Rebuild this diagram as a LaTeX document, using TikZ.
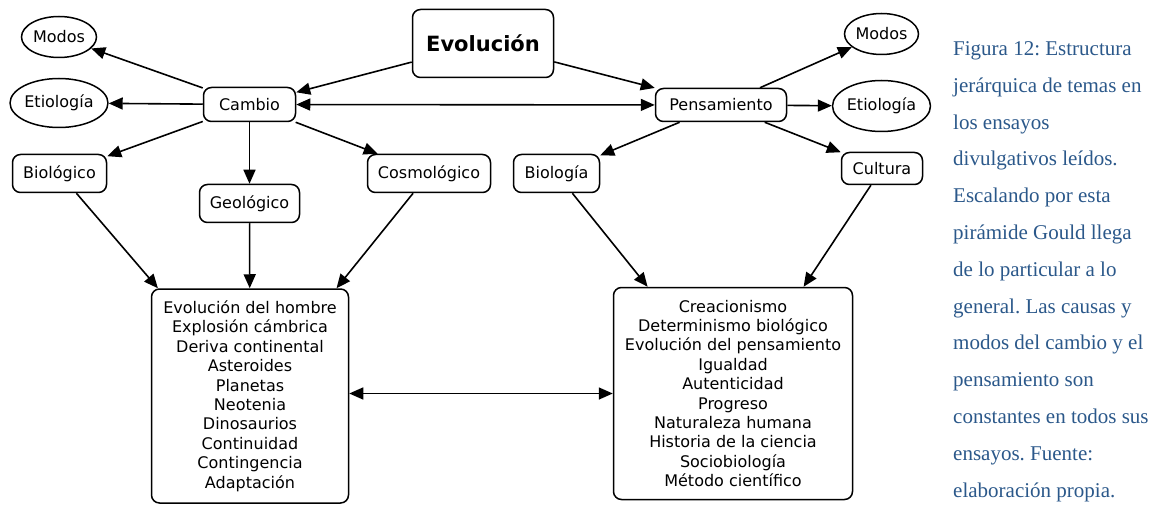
\documentclass[tikz,border=0pt]{standalone}
\usepackage{fontspec}
\newfontfamily\diagfont{DejaVu Sans}
\newfontfamily\captfont{Liberation Serif}
\usepackage{tikz}
\usetikzlibrary{arrows.meta, positioning, shapes.geometric}
\definecolor{captblue}{HTML}{2B588A}
\frenchspacing

\begin{document}
\begin{tikzpicture}[x=1pt, y=-1pt, >={Triangle[length=14pt, width=12pt]},
			every node/.style={font=\diagfont\fontsize{16}{19.4}\selectfont},
			topic/.style={draw, rectangle, rounded corners=8pt, line width=1.5pt, inner sep=0pt},
			mode/.style={draw, ellipse, line width=1.5pt, inner sep=0pt},
			link/.style={->, line width=1.6pt}]
			
			\useasboundingbox (0,0) rectangle (1154,505);
			
			% Drawing the root
			\node[topic, minimum width=141pt, minimum height=68pt,
				font=\diagfont\bfseries\fontsize{21}{24}\selectfont] (evol) at (483,43.5) {Evolución};
			
			% Drawing the two branches
			\node[topic, minimum width=92pt, minimum height=34pt] (cambio) at (249.5,104.5) {Cambio};
			\node[topic, minimum width=131pt, minimum height=33pt] (pens) at (721,105) {Pensamiento};
			
			% Drawing the leaves of Cambio
			\node[mode, minimum width=75pt, minimum height=41pt] (modosL) at (59,37) {Modos};
			\node[mode, minimum width=95pt, minimum height=49pt] (etioL) at (59,103) {Etiología};
			\node[topic, minimum width=94pt, minimum height=38pt] (biologico) at (59.5,173.5) {Biológico};
			\node[topic, minimum width=100pt, minimum height=38pt] (geologico) at (249.5,203.5) {Geológico};
			\node[topic, minimum width=123pt, minimum height=38pt] (cosmologico) at (429,173.5) {Cosmológico};
			
			% Drawing the leaves of Pensamiento
			\node[mode, minimum width=74pt, minimum height=41pt] (modosR) at (881.5,34) {Modos};
			\node[mode, minimum width=96pt, minimum height=51pt] (etioR) at (881.5,106) {Etiología};
			\node[topic, minimum width=81pt, minimum height=32pt] (cultura) at (882,168.5) {Cultura};
			\node[topic, minimum width=86pt, minimum height=38pt] (biologia) at (556.5,173.5) {Biología};
			
			% Drawing the lists of themes
			\node[topic, minimum width=197pt, minimum height=214pt, align=center] (temasL) at (250,396) {
				Evolución del hombre\\ Explosión cámbrica\\ Deriva continental\\ Asteroides\\ Planetas\\
				Neotenia\\ Dinosaurios\\ Continuidad\\ Contingencia\\ Adaptación};
			\node[topic, minimum width=239pt, minimum height=212pt, align=center] (temasR) at (733,393.5) {
				Creacionismo\\ Determinismo biológico\\ Evolución del pensamiento\\ Igualdad\\ Autenticidad\\
				Progreso\\ Naturaleza humana\\ Historia de la ciencia\\ Sociobiología\\ Método científico};
			
			% Connecting the root
			\draw[link] (evol) -- (cambio);
			\draw[link] (evol) -- (pens);
			\draw[<->, line width=1.6pt] (cambio) -- (pens);
			
			% Connecting Cambio
			\draw[link] (cambio) -- (modosL);
			\draw[link] (cambio) -- (etioL);
			\draw[link] (cambio) -- (biologico);
			\draw[link] (cambio) -- (geologico);
			\draw[link] (cambio) -- (cosmologico);
			
			% Connecting Pensamiento
			\draw[link] (pens) -- (modosR);
			\draw[link] (pens) -- (etioR);
			\draw[link] (pens) -- (cultura);
			\draw[link] (pens) -- (biologia);
			
			% Connecting to the lists
			\draw[link] (biologico) -- (temasL);
			\draw[link] (geologico) -- (temasL);
			\draw[link] (cosmologico) -- (temasL);
			\draw[link] (biologia) -- (temasR);
			\draw[link] (cultura) -- (temasR);
			\draw[<->, line width=1.6pt] (temasL.east |- temasR.west) -- (temasR.west);
			
			% Caption (base is the baseline of its last line)
			\node[anchor=base west, align=left, inner sep=0pt, text=captblue,
				font=\captfont\fontsize{21}{36.8}\selectfont] (caption) at (953,497) {
				Figura 12: Estructura\\ jerárquica de temas en\\ los ensayos\\ divulgativos leídos.\\
				Escalando por esta\\ pirámide Gould llega\\ de lo particular a lo\\ general. Las causas y\\
				modos del cambio y el\\ pensamiento son\\ constantes en todos sus\\ ensayos. Fuente:\\
				elaboración propia.};
		\end{tikzpicture}
\end{document}
